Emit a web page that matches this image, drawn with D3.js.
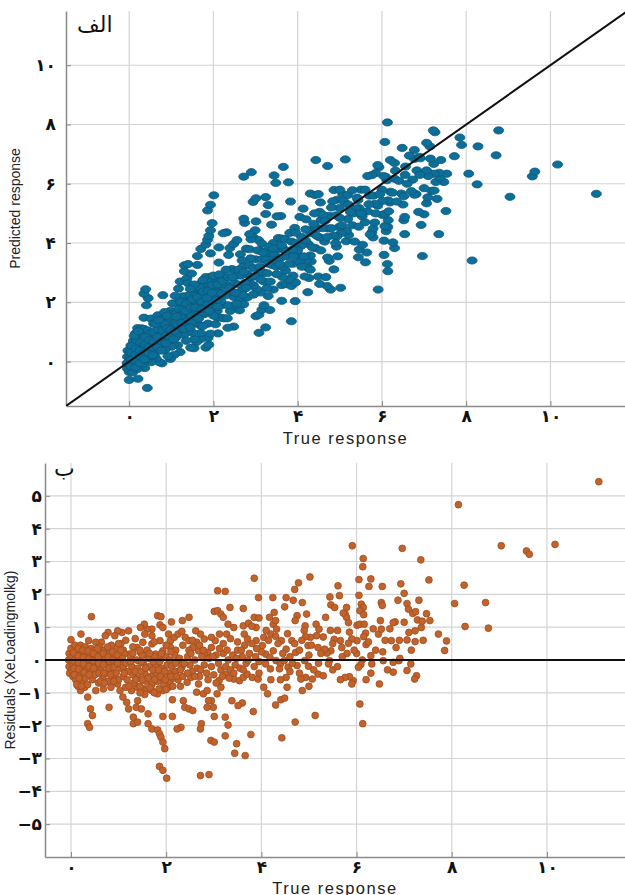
<!DOCTYPE html>
<html lang="fa">
<head>
  <meta charset="UTF-8">
  <title>True vs predicted response</title>
  <style>
    body { margin: 0; background: #fff; }
    svg { display: block; }
  </style>
</head>
<body>
  <svg width="625" height="895"></svg>
  <script src="https://cdn.jsdelivr.net/npm/d3@7/dist/d3.min.js"></script>
  <script>
    // [true response, residual] pairs
    var outliers = [
      [11.09,5.43],[8.14,4.73],[9.04,3.48],[9.57,3.32],[9.63,3.22],[10.17,3.52],[8.26,2.28],[8.06,1.72],
      [8.71,1.75],[8.28,1.02],[8.77,0.97],[5.91,3.48],[6.96,3.40],[6.14,3.09],[6.13,2.84],[7.35,3.05],
      [7.52,2.44],[6.05,2.45],[6.30,2.47],[6.26,2.24],[6.54,2.24],[6.93,2.32],[7.00,2.03],[6.87,1.82],
      [7.31,1.82],[7.06,1.72],[7.09,1.55],[7.18,1.42],[7.24,1.47],[7.47,1.41],[7.28,1.22],[7.38,1.18],
      [7.54,1.20],[7.36,0.99],[7.23,0.89],[7.10,0.84],[7.23,0.56],[7.06,0.61],[7.72,0.79],[7.89,0.58],
      [7.85,0.29],[6.81,1.16],[6.77,1.14],[6.73,0.59],[6.83,0.38],[6.55,0.25],[6.50,1.20],[6.46,0.79],
      [6.52,0.94],[6.52,1.75],[6.54,1.66],[6.05,1.97],[6.10,1.70],[6.14,1.60],[6.07,1.50],[6.15,1.38],
      [6.01,1.06],[6.07,1.09],[6.16,1.09],[6.19,0.82],[6.15,0.71],[6.01,0.59],[5.90,0.64],[5.83,0.51],
      [6.20,0.47],[5.61,2.26],[5.64,1.96],[5.44,1.92],[5.46,1.68],[5.54,1.60],[5.79,1.60],[5.76,1.40],
      [5.79,1.30],[5.83,1.14],[5.72,1.43],[5.66,0.59],[5.53,0.63],[5.69,0.38],[5.46,0.28],[5.38,0.21],
      [5.33,0.33],[6.30,0.13],[6.12,0.00],[6.09,-0.14],[6.04,-0.22],[6.32,-0.12],[6.30,-0.40],[6.56,-0.02],
      [6.77,-0.07],[6.89,-0.02],[6.91,0.05],[7.14,-0.12],[7.06,-0.32],[7.26,-0.48],[7.22,-0.58],[6.77,-0.37],
      [6.48,-0.73],[5.93,-0.63],[5.90,-0.73],[5.85,-0.51],[5.76,-0.53],[5.66,-0.60],[6.07,-1.34],[6.13,-1.94],
      [5.60,0.90],[5.70,0.10],[5.85,0.85],[6.00,0.20],[6.25,0.55],[6.35,0.95],[6.40,0.30],[6.60,0.60],
      [6.70,0.95],[6.90,0.60],[7.00,1.15],[7.15,0.30],[7.40,0.60],[6.65,-0.30],[5.50,-0.30]
    ]
    var middle = [
      [5.02,2.53],[4.78,2.35],[4.70,2.15],[3.85,2.49],[3.94,1.90],[4.24,1.90],[4.52,1.90],[4.49,1.62],
      [4.67,1.82],[4.86,1.75],[4.92,1.04],[5.15,1.09],[5.21,0.94],[5.16,0.74],[5.03,0.69],[4.93,0.71],
      [4.75,1.35],[4.71,1.20],[4.64,0.59],[4.72,0.23],[4.98,0.44],[5.19,0.38],[4.27,1.45],[4.17,1.30],
      [4.25,1.09],[4.32,0.94],[4.20,0.79],[4.30,0.72],[4.42,0.59],[4.25,0.28],[4.52,0.33],[3.62,1.57],
      [3.62,1.04],[3.73,1.12],[3.85,1.30],[3.95,1.28],[3.89,0.99],[3.80,1.03],[3.64,0.79],[3.71,0.64],
      [3.89,0.59],[4.05,0.69],[4.02,0.44],[4.09,0.18],[4.18,0.08],[4.31,-0.02],[4.40,-0.12],[4.48,-0.02],
      [4.09,-0.12],[4.19,-0.27],[4.38,-0.27],[4.56,-0.22],[4.75,-0.17],[4.91,-0.02],[4.99,-0.19],[4.93,-0.53],
      [5.07,-0.58],[5.19,-0.43],[5.30,-0.48],[5.43,-0.02],[5.41,-0.12],[4.52,-0.53],[4.54,-0.83],[4.86,-0.93],
      [4.83,-0.58],[5.13,-1.69],[4.71,-1.89],[4.43,-2.37],[3.78,-2.27],[3.83,-1.57],[3.60,-1.31],[3.38,-1.24],
      [3.51,-1.39],[3.48,-2.55],[3.44,-2.84],[3.66,-2.91],[3.24,-1.74],[3.30,-1.98],[3.24,-2.31],[3.01,-1.72],
      [2.99,-1.44],[2.95,-1.24],[3.07,-1.03],[3.15,-0.83],[3.11,-0.63],[3.27,-0.43],[3.42,-0.58],[3.54,-0.63],
      [3.62,-0.53],[3.70,-0.43],[3.81,-0.53],[3.93,-0.58],[4.05,-0.83],[4.13,-1.03],[4.30,-1.37],[4.41,-1.21],
      [4.49,-1.16],[2.90,-3.49],[2.72,-3.52],[2.94,-2.45],[3.01,-2.50],[2.74,-1.94],[2.72,-2.10],[2.89,-1.24],
      [2.86,-1.44],[2.78,-1.03],[2.64,-0.98],[2.68,-0.73],[2.86,-0.93],
      [4.60,0.10],[4.80,0.30],[5.00,0.15],[5.10,-0.30],[4.35,0.50],[4.15,0.60],[3.95,-0.40],[4.20,-0.60],
      [4.60,-0.35],[4.85,0.60],[5.25,0.20],[5.50,0.50],[5.60,-0.20],[5.80,0.20],[5.95,0.30],[6.20,-0.60],
      [4.00,0.25],[4.10,0.90],[4.30,1.20],[4.45,0.20],[4.55,0.80],[4.65,-0.10],[4.70,0.50],[4.90,0.90],
      [5.05,0.45],[5.20,-0.10],[5.30,0.70],[5.35,1.30],[4.95,1.40],[4.40,-0.60],[4.80,-0.40],[5.00,-0.80],
      [5.45,0.90]
    ]
    var upperLow = [
      [3.08,2.11],[3.24,2.09],[3.01,1.48],[3.08,1.50],[3.15,1.40],[3.34,1.60],[3.20,1.30],[3.30,1.09],
      [3.42,0.99],[3.27,0.79],[3.12,0.79],[3.03,0.59],[2.95,0.38],[2.87,0.23],[2.80,0.18],[2.68,0.28],
      [2.56,0.38],[2.48,0.30],[2.64,0.54],[2.80,0.64],[2.95,0.69],[2.72,0.79],[2.62,0.89],[2.48,1.30],
      [2.34,1.20],[2.11,1.16],[1.82,1.35],[1.89,1.32],[1.87,1.07],[1.93,0.99],[1.70,0.94],[1.60,0.94],
      [1.54,1.09],[1.46,0.99],[1.55,0.79],[1.70,0.74],[1.51,0.54],[1.39,0.38],[1.46,0.23],[1.70,0.49],
      [1.87,0.59],[2.05,0.79],[2.09,0.59],[2.17,0.69],[2.25,0.79],[2.33,0.87],[2.40,0.69],[2.48,0.59],
      [2.09,0.38],[1.93,0.28],[1.78,0.18],[1.62,0.08],[1.43,-0.02],[1.23,0.18],[1.21,0.89],[1.07,0.84],
      [0.98,0.89],[0.92,0.74],[0.78,0.84],[0.72,0.74],[0.64,0.54],[0.52,0.54],[0.37,0.59],[0.21,0.79],
      [0.00,0.62],[0.43,1.32],
      [1.10,0.30],[1.30,0.40],[1.35,0.65],[1.60,0.30],[1.75,0.55],[2.00,0.45],[2.20,0.30],[2.35,0.45],
      [1.15,0.60],[1.05,0.50]
    ]
    var lowerLeft = [
      [2.44,-0.68],[2.52,-0.53],[2.33,-0.22],[2.25,-0.02],[2.13,-0.43],[2.05,-0.83],[1.93,-0.93],[1.82,-1.03],
      [1.70,-0.93],[1.55,-0.88],[1.39,-0.83],[1.27,-0.93],[1.15,-0.83],[1.03,-0.93],[0.98,-0.73],[1.09,-1.13],
      [1.17,-1.29],[1.21,-1.49],[1.37,-1.44],[1.40,-1.24],[1.48,-1.49],[1.31,-1.74],[1.31,-1.94],[1.40,-1.89],
      [1.62,-1.64],[1.62,-1.94],[1.70,-2.10],[1.82,-2.13],[1.86,-2.25],[1.89,-2.35],[1.93,-2.50],[1.97,-2.70],
      [2.13,-1.21],[1.93,-1.72],[2.13,-1.72],[1.86,-3.24],[1.93,-3.36],[2.01,-3.60],[2.36,-1.24],[2.39,-1.44],
      [2.48,-1.49],[2.56,-1.54],[2.31,-2.05],[2.23,-2.10],[0.80,-1.44],[0.35,-1.13],[0.41,-1.49],[0.45,-1.69],
      [0.35,-1.94],[0.39,-2.05],[0.20,-0.93],[0.29,-0.83],[0.52,-0.93],[0.68,-0.88],[0.84,-0.83]
    ]
    var clusterNearZero = [
      [-0.04,0.20],[-0.05,0.00],[-0.04,-0.20],[-0.03,-0.40],[0.00,0.35],[0.02,0.10],[0.03,-0.10],[0.02,-0.30],
      [0.04,-0.50],[0.08,0.45],[0.10,0.25],[0.10,0.05],[0.10,-0.15],[0.12,-0.35],[0.10,-0.60],[0.15,-0.80],
      [0.20,0.45],[0.20,0.20],[0.20,0.00],[0.22,-0.20],[0.20,-0.45],[0.25,-0.65],[0.30,0.40],[0.32,0.15],
      [0.30,-0.05],[0.33,-0.30],[0.30,-0.55],[0.35,-0.75],[0.42,0.35],[0.40,0.10],[0.45,-0.10],[0.42,-0.35],
      [0.45,-0.60],[0.50,0.30],[0.52,0.05],[0.55,-0.20],[0.50,-0.45],[0.58,-0.70],[0.60,0.40],[0.62,0.15],
      [0.65,-0.05],[0.63,-0.30],[0.67,-0.55],[0.70,0.30],[0.72,0.05],[0.75,-0.15],[0.73,-0.40],[0.78,-0.65],
      [0.80,0.20],[0.82,-0.05],[0.85,-0.30],[0.88,-0.50],[0.90,0.10],[0.92,-0.15],[0.95,-0.40],[1.00,-0.60],
      [1.02,0.00],[1.05,-0.25],[1.10,-0.50],[1.12,0.20],[0.95,0.35],[1.00,0.50],[0.85,0.45],
      [0.05,0.22],[0.05,-0.02],[0.06,-0.25],[0.07,-0.45],[0.15,0.35],[0.15,0.12],[0.16,-0.08],[0.16,-0.28],
      [0.17,-0.55],[0.25,0.30],[0.26,0.08],[0.26,-0.12],[0.27,-0.38],[0.36,0.28],[0.37,0.03],[0.38,-0.20],
      [0.38,-0.45],[0.47,0.20],[0.47,-0.02],[0.48,-0.25],[0.56,0.35],[0.57,0.10],[0.58,-0.10],[0.59,-0.40],
      [0.68,0.20],[0.68,-0.15],[0.69,-0.40],[0.77,0.40],[0.78,0.10],[0.80,-0.25],[0.83,-0.45],[0.87,0.25],
      [0.88,0.00],[0.90,-0.22],[0.97,0.15],[0.98,-0.10],[1.05,0.30],[1.08,0.05],[1.10,-0.20],[0.12,-0.75],
      [0.22,-0.80],[0.62,-0.65],[0.70,-0.70],[0.90,-0.65]
    ]
    var clusterOneToThree = [
      [1.15,-0.10],[1.20,-0.35],[1.18,-0.60],[1.25,0.10],[1.28,-0.20],[1.30,-0.45],[1.32,-0.70],[1.38,0.00],
      [1.40,-0.25],[1.42,-0.55],[1.45,-0.80],[1.50,0.15],[1.52,-0.10],[1.55,-0.40],[1.58,-0.65],[1.60,-0.90],
      [1.63,0.05],[1.65,-0.20],[1.68,-0.50],[1.70,-0.75],[1.75,0.10],[1.78,-0.15],[1.80,-0.40],[1.82,-0.65],
      [1.85,-0.88],[1.88,0.00],[1.90,-0.25],[1.92,-0.55],[1.95,-0.75],[2.00,0.10],[2.02,-0.15],[2.05,-0.40],
      [2.08,-0.65],[2.12,-0.20],[2.15,-0.55],[2.18,0.15],[2.20,-0.35],[2.25,-0.60],[2.28,0.05],[2.30,-0.30],
      [2.45,0.10],[2.50,-0.15],[2.55,-0.35],[2.60,0.00],[2.65,-0.25],[2.70,-0.50],[2.75,0.10],[2.80,-0.15],
      [2.85,-0.40],[2.90,0.05],[2.95,-0.20],[3.00,-0.45],[3.05,0.15],[3.10,-0.10],[3.15,-0.30],[3.20,0.20],
      [3.25,-0.20],[3.30,0.00],[3.35,-0.30],[3.40,0.15],[3.45,-0.15],[3.50,0.30],[3.55,-0.25],[3.60,0.10],
      [3.68,-0.10],[3.75,0.20],[3.85,-0.20],[3.90,0.35],[2.55,0.60],[2.70,0.45],[3.20,0.50],[3.35,0.65],
      [3.50,0.55],[3.65,0.45],
      [1.12,-0.40],[1.22,-0.80],[1.25,-0.05],[1.35,-0.35],[1.36,-0.60],[1.47,-0.35],[1.48,-0.05],[1.50,-0.60],
      [1.57,-0.25],[1.62,-0.55],[1.66,-0.85],[1.72,-0.30],[1.73,-0.05],[1.76,-0.60],[1.84,-0.30],[1.86,-0.05],
      [1.88,-0.50],[1.97,-0.35],[1.98,-0.60],[2.00,-0.90],[2.07,0.00],[2.10,-0.50],[2.14,-0.80],[2.20,-0.10],
      [2.22,-0.50],[2.30,-0.80],[2.35,-0.50],[2.38,-0.10],[1.30,0.20],[1.45,0.30],[1.65,0.20],[1.90,0.20],
      [2.10,0.25],[1.55,-1.05],[1.75,-1.00],[1.45,-1.00],
      [2.45,-0.40],[2.52,0.20],[2.60,-0.50],[2.72,-0.30],[2.78,0.30],[2.88,-0.60],[2.98,0.10],[3.05,-0.70],
      [3.12,0.35],[3.18,-0.50],[3.28,0.30],[3.32,-0.55],[3.42,-0.40],[3.48,0.05],[3.58,0.30],[3.62,-0.30],
      [3.72,0.00],[3.80,0.50],[3.88,0.10],[3.95,-0.05]
    ]

    var xTicks = [0, 2, 4, 6, 8, 10]
    var xTickLabels = ['۰', '۲', '۴', '۶', '۸', '۱۰']
    var yTicksTop = [0, 2, 4, 6, 8, 10]
    var yTickLabelsTop = ['۰', '۲', '۴', '۶', '۸', '۱۰']
    var yTicksBottom = [-5, -4, -3, -2, -1, 0, 1, 2, 3, 4, 5]
    var yTickLabelsBottom = ['−۵', '−۴', '−۳', '−۲', '−۱', '۰', '۱', '۲', '۳', '۴', '۵']

    var pts = [].concat(outliers, middle, upperLow, lowerLeft, clusterNearZero, clusterOneToThree)
    var data = pts.map(function(p) {
      return { truth: p[0], residual: p[1], predicted: p[0] - p[1] }
    })

    var svg = d3.select('svg')
    var gridColor = '#d4d4d4'
    var axisColor = '#8a8a8a'
    var digitFont = '"DejaVu Sans", sans-serif'
    var latinFont = '"Liberation Sans", Arial, sans-serif'

    function drawPanel(opt) {
      var x = d3.scaleLinear().domain(opt.xDomain).range([opt.left, opt.right])
      var y = d3.scaleLinear().domain(opt.yDomain).range([opt.bottom, opt.top])
      var g = svg.append('g')

      var clipId = opt.id + '-clip'
      svg.append('clipPath').attr('id', clipId)
        .append('rect')
        .attr('x', opt.left).attr('y', opt.top)
        .attr('width', opt.right - opt.left).attr('height', opt.bottom - opt.top)

      // grid
      g.append('g').selectAll('line').data(opt.xTicks).enter().append('line')
        .attr('x1', x).attr('x2', x)
        .attr('y1', opt.top).attr('y2', opt.bottom)
        .attr('stroke', gridColor).attr('stroke-width', 1.2)
      g.append('g').selectAll('line').data(opt.yTicks).enter().append('line')
        .attr('x1', opt.left).attr('x2', opt.right)
        .attr('y1', y).attr('y2', y)
        .attr('stroke', gridColor).attr('stroke-width', 1.2)

      // axes
      var xAxis = d3.axisBottom(x).tickValues(opt.xTicks)
        .tickFormat(function(d, i) { return opt.xLabels[i] })
        .tickSizeInner(-5).tickSizeOuter(0).tickPadding(4)
      var yAxis = d3.axisLeft(y).tickValues(opt.yTicks)
        .tickFormat(function(d, i) { return opt.yLabels[i] })
        .tickSizeInner(-5).tickSizeOuter(0).tickPadding(opt.yPad)

      var gx = g.append('g').attr('transform', 'translate(0,' + opt.bottom + ')').call(xAxis)
      var gy = g.append('g').attr('transform', 'translate(' + opt.left + ',0)').call(yAxis)
      ;[gx, gy].forEach(function(a) {
        a.select('.domain').attr('stroke', axisColor).attr('stroke-width', 1.5)
        a.selectAll('.tick line').attr('stroke', axisColor)
        a.selectAll('.tick text')
          .attr('font-family', digitFont).attr('font-weight', 'bold')
          .attr('font-size', 17).attr('fill', '#111')
      })

      // reference line + points
      var plot = g.append('g').attr('clip-path', 'url(#' + clipId + ')')
      opt.drawMarks(plot, x, y)

      // axis titles
      g.append('text')
        .attr('x', (opt.left + opt.right) / 2).attr('y', opt.xTitleY)
        .attr('text-anchor', 'middle')
        .attr('font-family', latinFont).attr('font-size', 16.5)
        .attr('letter-spacing', 1.5).attr('fill', '#222')
        .text('True response')
      g.append('text')
        .attr('transform', 'translate(' + opt.yTitleX + ',' + (opt.top + opt.bottom) / 2 + ') rotate(-90)')
        .attr('text-anchor', 'middle')
        .attr('font-family', latinFont).attr('font-size', 14)
        .attr('fill', '#222')
        .text(opt.yTitle)

      // panel tag
      g.append('text')
        .attr('x', opt.tagX).attr('y', opt.tagY)
        .attr('text-anchor', 'start')
        .attr('font-family', digitFont).attr('font-size', 22)
        .attr('fill', '#111')
        .text(opt.tag)
    }

    // panel الف : predicted vs true
    drawPanel({
      id: 'top',
      left: 66, right: 625, top: 11, bottom: 406,
      xDomain: [-1.5, 11.77], yDomain: [-1.5, 11.83],
      xTicks: xTicks, xLabels: xTickLabels,
      yTicks: yTicksTop, yLabels: yTickLabelsTop, yPad: 10,
      xTitleY: 444, yTitleX: 20,
      yTitle: 'Predicted response',
      tag: 'الف', tagX: 77, tagY: 32,
      drawMarks: function(plot, x, y) {
        plot.selectAll('ellipse').data(data).enter().append('ellipse')
          .attr('cx', function(d) { return x(d.truth) })
          .attr('cy', function(d) { return y(d.predicted) })
          .attr('rx', 5).attr('ry', 3.6)
          .attr('fill', '#0b6f99')
          .attr('stroke', '#0a5878').attr('stroke-width', 0.8)
        plot.append('line')
          .attr('x1', x(-1.5)).attr('y1', y(-1.5))
          .attr('x2', x(12)).attr('y2', y(12))
          .attr('stroke', '#111').attr('stroke-width', 2)
      }
    })

    // panel ب : residuals vs true
    drawPanel({
      id: 'bottom',
      left: 45, right: 625, top: 463, bottom: 857,
      xDomain: [-0.546, 11.64], yDomain: [-6, 6],
      xTicks: xTicks, xLabels: xTickLabels,
      yTicks: yTicksBottom, yLabels: yTickLabelsBottom, yPad: 3,
      xTitleY: 894, yTitleX: 15,
      yTitle: 'Residuals (XeLoadingmolkg)',
      tag: 'ب', tagX: 54, tagY: 476,
      drawMarks: function(plot, x, y) {
        plot.selectAll('circle').data(data).enter().append('circle')
          .attr('cx', function(d) { return x(d.truth) })
          .attr('cy', function(d) { return y(d.residual) })
          .attr('r', 3.4)
          .attr('fill', '#c2632b')
          .attr('stroke', '#9e4c1f').attr('stroke-width', 0.8)
        plot.append('line')
          .attr('x1', x(-0.546)).attr('y1', y(0))
          .attr('x2', x(11.64)).attr('y2', y(0))
          .attr('stroke', '#111').attr('stroke-width', 2)
      }
    })
  </script>
</body>
</html>
